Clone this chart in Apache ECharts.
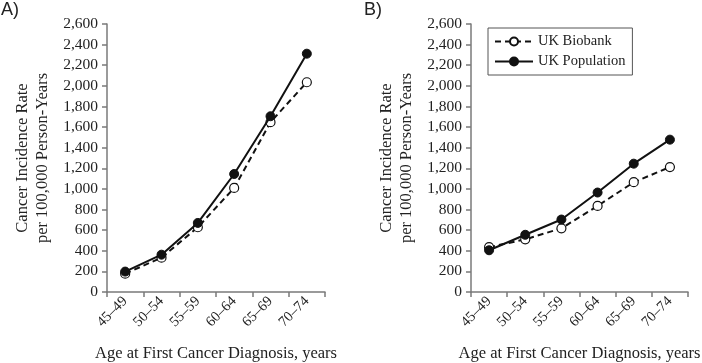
<!DOCTYPE html>
<html><head><meta charset="utf-8">
<script src="https://cdn.jsdelivr.net/npm/echarts@6/dist/echarts.min.js"></script>
<style>html,body{margin:0;padding:0;background:#fff}#c{width:702px;height:363px}</style>
</head><body><div id="c"></div>
<script>
const categories = ['45\u201349','50\u201354','55\u201359','60\u201364','65\u201369','70\u201374'];
const biobankA = [178, 333, 628, 1010, 1648, 2035];
const populationA = [198, 362, 670, 1145, 1705, 2312];
const biobankB = [435, 511, 618, 835, 1065, 1212];
const populationB = [405, 555, 703, 965, 1245, 1478];
const yTicks = {min: 0, max: 2600, interval: 200};

const font = 'Liberation Serif';
const chart = echarts.init(document.getElementById('c'));
function xAxis(i){
  return {type:'category', gridIndex:i, data:categories, boundaryGap:true,
    axisLine:{lineStyle:{color:'#7a7a7a', width:1.5}},
    axisTick:{show:true, length:5, lineStyle:{color:'#7a7a7a', width:1.5}},
    axisLabel:{rotate:45, color:'#222', fontFamily:font, fontSize:14.5, margin:7, interval:0},
    name:'Age at First Cancer Diagnosis, years', nameLocation:'middle', nameGap:53,
    nameTextStyle:{color:'#222', fontFamily:font, fontSize:16.5}};
}
function yAxis(i){
  return {type:'value', gridIndex:i, min:yTicks.min, max:yTicks.max, interval:yTicks.interval,
    splitLine:{show:false},
    axisLine:{show:true, lineStyle:{color:'#7a7a7a', width:1.5}},
    axisTick:{show:true, length:5, lineStyle:{color:'#7a7a7a', width:1.5}},
    axisLabel:{color:'#222', fontFamily:font, fontSize:15.5, margin:9,
      formatter:v=>v.toLocaleString('en-US')},
    name:'Cancer Incidence Rate\nper 100,000 Person-Years', nameLocation:'middle', nameGap:54,
    nameTextStyle:{color:'#222', fontFamily:font, fontSize:16.5, lineHeight:20}};
}
function bio(i, data){
  return {name:'UK Biobank', type:'line', xAxisIndex:i, yAxisIndex:i, data,
    symbol:'circle', symbolSize:9,
    itemStyle:{color:'#fff', borderColor:'#111', borderWidth:1.2},
    lineStyle:{color:'#111', width:2, type:[6,4]}, z:3};
}
function pop(i, data){
  return {name:'UK Population', type:'line', xAxisIndex:i, yAxisIndex:i, data,
    symbol:'circle', symbolSize:9,
    itemStyle:{color:'#111', borderColor:'#111', borderWidth:1},
    lineStyle:{color:'#111', width:2, type:'solid'}, z:4};
}
chart.setOption({
  animation:false,
  backgroundColor:'#fff',
  grid:[
    {left:107, right:377, top:24, bottom:71, containLabel:false, outerBoundsMode:'none'},
    {left:471, right:14, top:24, bottom:71, containLabel:false, outerBoundsMode:'none'}
  ],
  xAxis:[xAxis(0), xAxis(1)],
  yAxis:[yAxis(0), yAxis(1)],
  graphic:[
    {type:'text', left:1, top:1, style:{text:'A)', font:'18px Liberation Sans', fill:'#222'}},
    {type:'text', left:364, top:1, style:{text:'B)', font:'18px Liberation Sans', fill:'#222'}}
  ],
  legend:{
    data:['UK Biobank','UK Population'], orient:'vertical', left:488, top:28,
    padding:[6,7,6,6], itemGap:5, itemWidth:38, itemHeight:10,
    borderColor:'#555', borderWidth:1, backgroundColor:'#fff',
    textStyle:{fontFamily:font, fontSize:14.5, color:'#222'}
  },
  series:[bio(0, biobankA), pop(0, populationA), bio(1, biobankB), pop(1, populationB)]
});
</script></body></html>
